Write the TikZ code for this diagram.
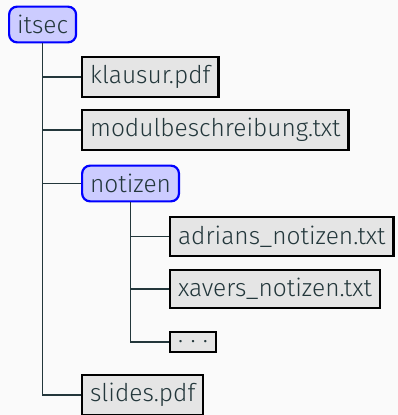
\documentclass[tikz,border=0pt]{standalone}
\usepackage{fontspec}
\setmainfont{Fira Sans}[UprightFont=* Light]
\definecolor{bgc}{HTML}{FAFAFA}
\definecolor{txt}{HTML}{23373B}
\definecolor{dirfill}{HTML}{CCCCFF}
\definecolor{filefill}{HTML}{E5E5E5}
\begin{document}
\begin{tikzpicture}[x=1pt,y=-1pt,
  every node/.style={font=\fontsize{24.5}{30}\selectfont, text=txt, inner xsep=8pt, inner ysep=8.5pt, anchor=west},
  dirbox/.style={draw=blue, fill=dirfill, rounded corners=8pt, line width=2.2pt},
  filebox/.style={draw=black, fill=filefill, line width=2.2pt},
  edge/.style={draw=txt, line width=1.3pt}]
\fill[bgc] (0,0) rectangle (398,415);
\useasboundingbox (0,0) rectangle (398,415);
\node[dirbox] (itsec) at (8,24.5) {itsec};
\node[filebox] (klausur) at (81,77) {klausur.pdf};
\node[filebox] (modul) at (81,130) {modulbeschreibung.txt};
\node[dirbox] (notizen) at (81,183.5) {notizen};
\node[filebox] (adrians) at (169,236.5) {adrians\_notizen.txt};
\node[filebox] (xavers) at (169,289) {xavers\_notizen.txt};
\node[filebox, minimum height=20pt, inner ysep=2pt] (dots) at (169,342) {.\hspace{0.3em}.\hspace{0.3em}.};
\node[filebox] (slides) at (81,395) {slides.pdf};
\draw[edge] (itsec.south) |- (klausur.west);
\draw[edge] (itsec.south) |- (modul.west);
\draw[edge] (itsec.south) |- (notizen.west);
\draw[edge] (itsec.south) |- (slides.west);
\draw[edge] (notizen.south) |- (adrians.west);
\draw[edge] (notizen.south) |- (xavers.west);
\draw[edge] (notizen.south) |- (dots.west);
\end{tikzpicture}
\end{document}
